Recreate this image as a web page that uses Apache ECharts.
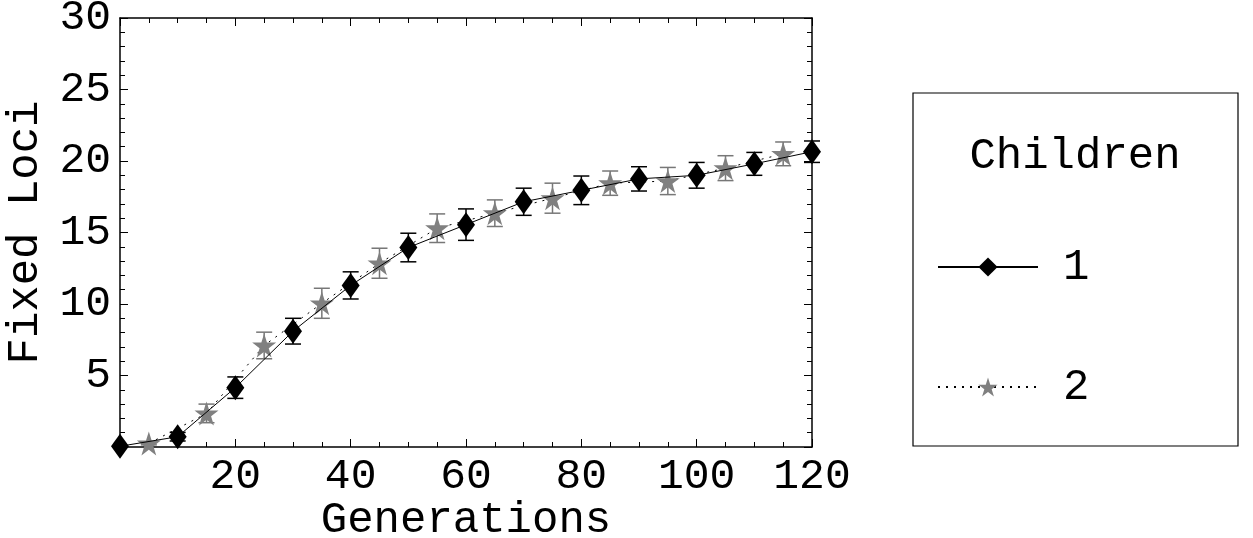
<!DOCTYPE html>
<html><head><meta charset="utf-8">
<script src="https://cdn.jsdelivr.net/npm/echarts@6/dist/echarts.min.js"></script>
<style>html,body{margin:0;padding:0;background:#fff}#c{width:1253px;height:538px}</style>
</head><body><div id="c"></div>
<script>
const gen1 = [0,10,20,30,40,50,60,70,80,90,100,110,120];
const fixed1 = [0.05,0.72,4.15,8.1,11.3,13.95,15.55,17.15,17.95,18.75,19.0,19.8,20.65];
const err1 = [0,0.3,0.75,0.9,0.95,1.0,1.1,0.95,1.0,0.85,0.9,0.8,0.75];
const gen2 = [5,15,25,35,45,55,65,75,85,95,105,115];
const fixed2 = [0.25,2.35,7.1,10.05,12.85,15.3,16.35,17.4,18.45,18.6,19.5,20.5];
const err2 = [0.1,0.65,0.93,1.05,1.05,1.0,0.93,1.05,0.85,0.95,0.87,0.83];
const seriesNames = ['1','2'];
const legendTitle = 'Children';
const xName = 'Generations';
const yName = 'Fixed Loci';

const FONT = '"Liberation Mono", "DejaVu Sans Mono", monospace';
const FS = 43;
const STAR = 'path://M50,0 L61.2,34.5 L97.6,34.5 L68.2,55.9 L79.4,90.5 L50,69.1 L20.6,90.5 L31.8,55.9 L2.4,34.5 L38.8,34.5 Z';

function errSeries(xs, ys, es, color) {
  return {
    type: 'custom', silent: true, z: 1,
    data: xs.map((x,i)=>[x, ys[i]-es[i], ys[i]+es[i]]),
    renderItem: function(params, api) {
      const lo = api.coord([api.value(0), api.value(1)]);
      const hi = api.coord([api.value(0), api.value(2)]);
      const w = 8;
      const st = {stroke: color, lineWidth: 1.5};
      return {type:'group', children:[
        {type:'line', shape:{x1:lo[0],y1:lo[1],x2:hi[0],y2:hi[1]}, style:st},
        {type:'line', shape:{x1:lo[0]-w,y1:lo[1],x2:lo[0]+w,y2:lo[1]}, style:st},
        {type:'line', shape:{x1:hi[0]-w,y1:hi[1],x2:hi[0]+w,y2:hi[1]}, style:st}
      ]};
    }
  };
}

const axisCommon = {
  axisLine:{show:true, onZero:false, lineStyle:{color:'#000', width:1.5}},
  axisTick:{show:true, inside:true, length:8, lineStyle:{color:'#000', width:1}},
  splitLine:{show:false}
};

const chart = echarts.init(document.getElementById('c'));
chart.setOption({
  backgroundColor:'#fff',
  animation:false,
  grid:{left:120, right:441, top:18, bottom:91, containLabel:false, outerBoundsMode:'none'},
  xAxis:[
    Object.assign({type:'value', min:0, max:120, interval:20, position:'bottom',
      name:xName, nameLocation:'middle', nameGap:51, nameMoveOverlap:false,
      nameTextStyle:{fontFamily:FONT, fontSize:FS+1, color:'#000'},
      axisLabel:{fontFamily:FONT, fontSize:FS, color:'#000', margin:8,
        formatter: v => v === 0 ? '' : String(v)}}, axisCommon,
      {minorTick:{show:true, splitNumber:4, length:5, lineStyle:{color:'#000'}}}),
    Object.assign({type:'value', min:0, max:120, interval:20, position:'top',
      axisLabel:{show:false}}, axisCommon,
      {minorTick:{show:true, splitNumber:4, length:5, lineStyle:{color:'#000'}}})
  ],
  yAxis:[
    Object.assign({type:'value', min:0, max:30, interval:5, position:'left',
      name:yName, nameLocation:'middle', nameGap:73, nameRotate:90, nameMoveOverlap:false,
      nameTextStyle:{fontFamily:FONT, fontSize:FS+1, color:'#000'},
      axisLabel:{fontFamily:FONT, fontSize:FS, color:'#000', margin:9,
        formatter: v => v === 0 ? '' : String(v)}}, axisCommon,
      {minorTick:{show:true, splitNumber:5, length:5, lineStyle:{color:'#000'}}}),
    Object.assign({type:'value', min:0, max:30, interval:5, position:'right',
      axisLabel:{show:false}}, axisCommon,
      {minorTick:{show:true, splitNumber:5, length:5, lineStyle:{color:'#000'}}})
  ],
  legend:{
    orient:'vertical', left:932, top:240, itemWidth:100, itemHeight:24, itemGap:76,
    data:seriesNames,
    textStyle:{fontFamily:FONT, fontSize:FS+1, color:'#000', lineHeight:44, padding:[0,0,0,20]}
  },
  graphic:[
    {type:'rect', x:913, y:93, shape:{width:325, height:353},
      style:{fill:'none', stroke:'#000', lineWidth:1.2}, z:-1},
    {type:'text', x:1075, y:134,
      style:{text:legendTitle, font:(FS+1)+'px '+FONT, fill:'#000', textAlign:'center'}}
  ],
  series:[
    errSeries(gen1, fixed1, err1, '#000'),
    errSeries(gen2, fixed2, err2, '#777'),
    {name:seriesNames[1], type:'line', z:3, data:gen2.map((x,i)=>[x, fixed2[i]]),
      symbol:STAR, symbolSize:24, showSymbol:true, clip:false,
      lineStyle:{color:'#000', width:1, type:[2,6]},
      itemStyle:{color:'#808080'}},
    {name:seriesNames[0], type:'line', z:4, data:gen1.map((x,i)=>[x, fixed1[i]]),
      symbol:'diamond', symbolSize:[18,25], showSymbol:true, clip:false,
      lineStyle:{color:'#000', width:1},
      itemStyle:{color:'#000'}}
  ]
});
</script></body></html>
